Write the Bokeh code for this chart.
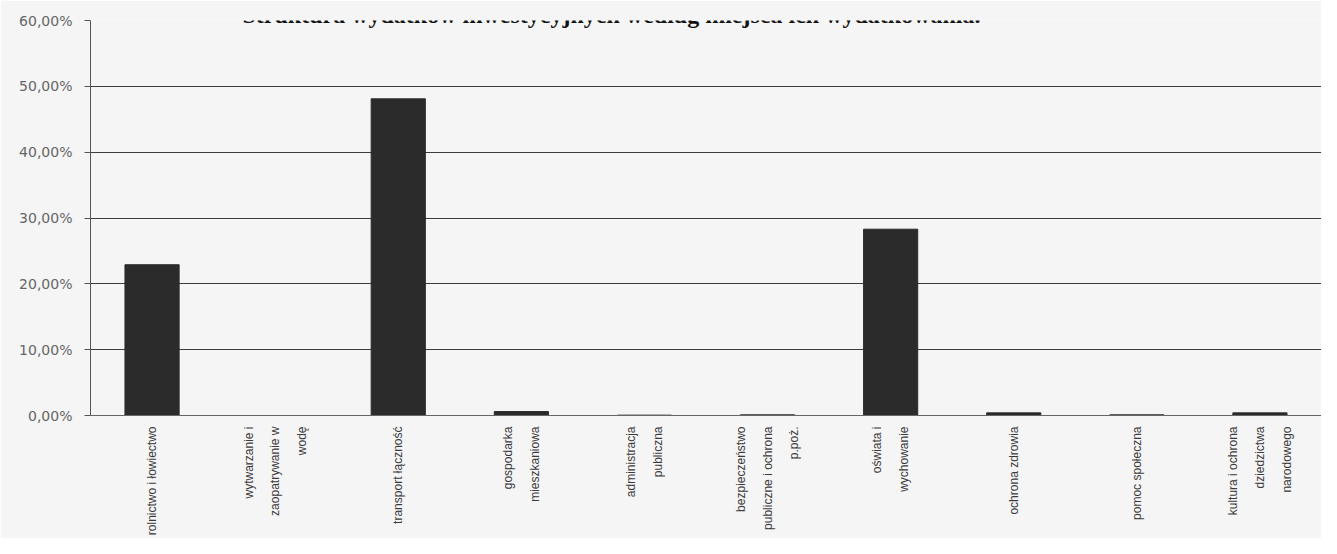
import math
from bokeh.plotting import figure
from bokeh.models import FixedTicker, Label, ColumnDataSource
from bokeh.embed import file_html
from bokeh.resources import INLINE

# --- data ---
categories = [
    "rolnictwo i łowiectwo",
    "wytwarzanie i\nzaopatrywanie w\nwodę",
    "transport łączność",
    "gospodarka\nmieszkaniowa",
    "administracja\npubliczna",
    "bezpieczeństwo\npubliczne i ochrona\np.poż.",
    "oświata i\nwychowanie",
    "ochrona zdrowia",
    "pomoc społeczna",
    "kultura i ochrona\ndziedzictwa\nnarodowego",
]
shares = [22.9, 0.0, 48.1, 0.6, 0.05, 0.1, 28.3, 0.4, 0.1, 0.4]
y_ticks = [0, 10, 20, 30, 40, 50, 60]
y_tick_labels = ["0,00%", "10,00%", "20,00%", "30,00%", "40,00%", "50,00%", "60,00%"]
title_text = "Struktura wydatków inwestycyjnych według miejsca ich wydatkowania."

W, H = 1321, 538
bg = "#f5f5f5"
LEFT = 90

p = figure(x_range=categories, y_range=(0, 60), width=W, height=H,
           output_backend="svg", toolbar_location=None,
           min_border_left=LEFT, min_border_right=0, min_border_top=20,
           min_border_bottom=110)
p.x_range.range_padding = 0
p.background_fill_color = bg
p.border_fill_color = bg
p.outline_line_color = None

src = ColumnDataSource(dict(cat=categories, val=shares))
p.vbar(x="cat", top="val", width=0.44, source=src,
       fill_color="#2b2b2b", line_color="#2b2b2b")

# y axis
p.yaxis.ticker = FixedTicker(ticks=y_ticks)
p.yaxis.major_label_overrides = {t: l for t, l in zip(y_ticks, y_tick_labels)}
p.yaxis.major_label_text_font = "DejaVu Sans"
p.yaxis.major_label_text_font_size = "14px"
p.yaxis.major_label_text_color = "#666666"
p.yaxis.major_label_standoff = 12
p.yaxis.major_tick_out = 6
p.yaxis.major_tick_in = 0
p.yaxis.minor_tick_line_color = None
p.yaxis.axis_line_color = "#555555"
p.yaxis.major_tick_line_color = "#555555"

# x axis
p.xaxis.major_label_orientation = math.pi / 2
p.xaxis.major_label_text_font = "Liberation Sans"
p.xaxis.major_label_text_font_size = "12px"
p.xaxis.major_label_text_color = "#3a3a3a"
p.xaxis.major_label_text_line_height = 1.9
p.xaxis.major_label_standoff = 5
p.xaxis.major_tick_line_color = None
p.xaxis.axis_line_color = "#666666"

# grid
p.xgrid.grid_line_color = None
p.ygrid.grid_line_color = "#3c3c3c"
p.ygrid.grid_line_width = 1

title = Label(x=611 - LEFT, y=60, x_units="screen", y_units="data",
              y_offset=6, text=title_text, text_font="Liberation Serif",
              text_font_style="bold", text_font_size="24px",
              text_color="#111111", text_align="center",
              text_baseline="alphabetic")
p.add_layout(title)

open("out.html", "w").write(file_html(p, INLINE))
